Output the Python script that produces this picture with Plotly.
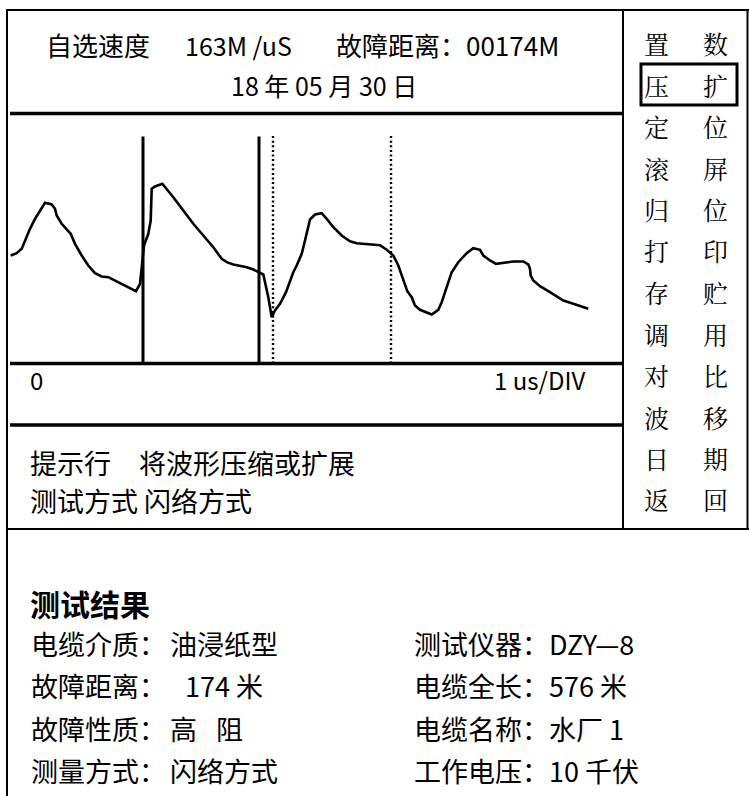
import plotly.graph_objects as go

# ---------------- data ----------------
# waveform samples (x: sample position, y: amplitude above baseline)
wave_x = [0.7, 6.7, 11.7, 15, 20, 25, 30, 35, 41.7, 45, 46.7, 51.7, 60.7, 65, 71.7, 78.3, 85, 91.7, 98.3,
          106.7, 116.7, 126, 130, 132.7, 134, 138.3, 140.7, 141.7, 145, 152.3, 156.7, 163.3, 173.3, 183.3,
          193.3, 203.3, 211.7, 216.7, 223.3, 236.7, 243.3, 248.3, 253.3, 258.3, 261.7, 265, 270, 276,
          278.3, 283.3, 286.7, 291.7, 295, 300, 305, 311.7, 316.7, 323.3, 331.7, 340, 346.7, 356.7, 370,
          376.7, 383.3, 388.3, 393.3, 397.3, 401.7, 405, 410, 421.7, 428.3, 431.7, 436.7, 441.7, 448.3,
          456.7, 463.3, 470, 473.3, 480, 486, 493.3, 503.3, 513.3, 518.3, 520, 520.7, 523.3, 530, 540,
          553.3, 563.3, 571.7, 578.3]
wave_y = [108, 110.3, 114.7, 123, 134.7, 144.7, 153, 160.7, 159, 154.7, 148, 139.7, 129.7, 119.7, 108, 98,
          90.3, 87, 86.3, 82, 77.3, 72.3, 79.7, 108, 118, 129.7, 143, 174.7, 177, 179.7, 174.7, 166.3, 153,
          139.7, 128, 116.3, 104.7, 101.3, 99, 96.3, 94, 91.3, 89, 66.3, 46.3, 53, 59.7, 71.3, 78, 91.3, 98,
          109.7, 123, 144, 149, 150.3, 144.7, 136.3, 128, 122.3, 120.3, 119.3, 118.3, 113.7, 108, 98, 84.7,
          72.3, 66.3, 58, 53.7, 49, 53.7, 61.3, 76.3, 91.3, 101.3, 110.3, 115.3, 113.7, 108, 103, 99.7,
          100.7, 102, 102, 99, 94.7, 88, 83, 77.3, 71.3, 63, 59.7, 57, 54.7]
solid_cursors = [133, 249]
dotted_cursors = [263, 381]
cursor_top = 227

header_parts = ["自选速度", "163M /uS", "故障距离：00174M"]
header_date = "18 年 05 月 30 日"
axis_left_label = "0"
axis_right_label = "1 us/DIV"
hint_parts = ["提示行", "将波形压缩或扩展"]
mode_line = "测试方式 闪络方式"
menu_left = ["置", "压", "定", "滚", "归", "打", "存", "调", "对", "波", "日", "返"]
menu_right = ["数", "扩", "位", "屏", "位", "印", "贮", "用", "比", "移", "期", "回"]
result_title = "测试结果"
result_left_labels = ["电缆介质：", "故障距离：", "故障性质：", "测量方式："]
result_left_values = ["油浸纸型", "174 米", "高", "闪络方式"]
result_left_extra = ["", "", "阻", ""]
result_right = ["测试仪器：DZY—8", "电缆全长：576 米", "电缆名称：水厂 1", "工作电压：10 千伏"]

# ---------------- layout helpers ----------------
W, H = 749, 796
FONT = "Noto Sans CJK SC, Noto Sans, sans-serif"
MENU_FONT = "Noto Serif CJK SC, Noto Sans CJK SC, serif"


def fx(p):
    return p / W


def fy(p):
    return 1 - p / H


fig = go.Figure()

# waveform
fig.add_trace(go.Scatter(x=wave_x, y=wave_y, mode="lines",
                         line=dict(color="black", width=2.6), hoverinfo="skip", showlegend=False))
for c in solid_cursors:
    fig.add_trace(go.Scatter(x=[c, c], y=[0, cursor_top], mode="lines",
                             line=dict(color="black", width=3), hoverinfo="skip", showlegend=False))
for c in dotted_cursors:
    fig.add_trace(go.Scatter(x=[c, c], y=[0, cursor_top + 1], mode="lines",
                             line=dict(color="black", width=2.4, dash="2px,2.6px"),
                             hoverinfo="skip", showlegend=False))

shapes = []


def hline(y, x0, x1, w):
    shapes.append(dict(type="line", xref="paper", yref="paper", x0=fx(x0), x1=fx(x1),
                       y0=fy(y), y1=fy(y), line=dict(color="black", width=w)))


def vline(x, y0, y1, w):
    shapes.append(dict(type="line", xref="paper", yref="paper", x0=fx(x), x1=fx(x),
                       y0=fy(y0), y1=fy(y1), line=dict(color="black", width=w)))


hline(10, 6, 749, 2)
vline(7, 9, 796, 2)
vline(623, 9, 529, 2)
vline(747.5, 9, 529, 2)
hline(113.5, 10, 624, 3.5)
hline(363.5, 10, 624, 3.5)
hline(425, 10, 624, 3.5)
hline(529, 6, 749, 2)
shapes.append(dict(type="rect", xref="paper", yref="paper", x0=fx(641), x1=fx(737),
                   y0=fy(64), y1=fy(105), line=dict(color="black", width=3)))

ann = []


def text(x, y, s, size, anchor="left", bold=False, family=FONT):
    ann.append(dict(x=fx(x), y=fy(y), xref="paper", yref="paper", text=("<b>%s</b>" % s) if bold else s,
                    showarrow=False, xanchor=anchor, yanchor="middle",
                    font=dict(family=family, size=size, color="black")))


text(44, 45, header_parts[0], 26)
text(183, 45, header_parts[1], 25)
text(334, 45, header_parts[2], 26)
text(324, 85, header_date, 25, "center")
text(28, 379, axis_left_label, 24)
text(587, 379, axis_right_label, 24, "right")
text(28, 462, hint_parts[0], 27)
text(137, 462, hint_parts[1], 27)
text(28, 500, mode_line, 27)
for i, (l, r) in enumerate(zip(menu_left, menu_right)):
    y = 43 + 41.5 * i
    text(656, y, l, 25, "center", family=MENU_FONT)
    text(715, y, r, 25, "center", family=MENU_FONT)
text(28, 603, result_title, 30, "left", bold=True)
value_x = [168, 183, 168, 168]
for i in range(4):
    y = 643 + 42.5 * i
    text(29, y, result_left_labels[i], 27)
    text(value_x[i], y, result_left_values[i], 27)
    if result_left_extra[i]:
        text(214, y, result_left_extra[i], 27)
    text(412, y, result_right[i], 27)

fig.update_layout(
    width=W, height=H,
    margin=dict(l=0, r=0, t=0, b=0),
    paper_bgcolor="white", plot_bgcolor="white",
    xaxis=dict(domain=[fx(10), fx(624)], range=[0, 614], visible=False, fixedrange=True),
    yaxis=dict(domain=[fy(363.5), fy(113.5)], range=[0, 250], visible=False, fixedrange=True),
    shapes=shapes, annotations=ann, showlegend=False,
)

fig.write_html("out.html", config={"displayModeBar": False, "staticPlot": True},
               post_script="document.body.style.margin='0';document.body.style.overflow='hidden';")
